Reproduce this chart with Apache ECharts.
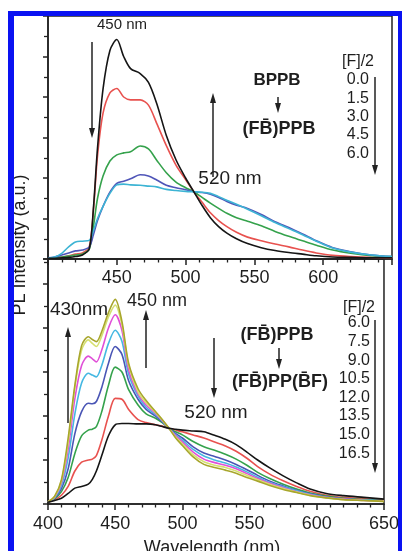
<!DOCTYPE html>
<html><head><meta charset="utf-8">
<script src="https://cdn.jsdelivr.net/npm/echarts@6/dist/echarts.min.js"></script>
<style>html,body{margin:0;padding:0;background:#fff}#c{width:402px;height:551px}</style>
</head><body><div id="c"></div>
<script>
// ---------- data ----------
const xTicks = [400, 450, 500, 550, 600, 650];
const wlTop = [400,405,410,415,420,425,430,433,436,440,445,450,455,460,467,473,479,486,493,500,506,512,518,524,530,537,545,555,565,575,585,595,607,620,635,650];
const top00 = [0.02,0.02,0.03,0.04,0.06,0.10,0.25,1.25,2.75,4.20,5.15,5.42,5.00,4.70,4.58,4.36,3.84,3.05,2.45,2.00,1.66,1.32,1.02,0.80,0.64,0.50,0.38,0.28,0.21,0.16,0.12,0.08,0.05,0.04,0.03,0.03];
const top15 = [0.02,0.03,0.05,0.08,0.12,0.15,0.30,1.20,2.55,3.60,4.10,4.21,4.00,3.93,3.93,3.80,3.35,2.80,2.32,1.96,1.66,1.40,1.14,0.95,0.80,0.66,0.54,0.45,0.37,0.30,0.22,0.15,0.09,0.06,0.04,0.03];
const top30 = [0.02,0.03,0.05,0.07,0.10,0.12,0.25,0.80,1.50,2.05,2.42,2.57,2.62,2.65,2.79,2.72,2.44,2.13,1.90,1.76,1.66,1.52,1.38,1.25,1.13,1.02,0.93,0.82,0.68,0.56,0.45,0.34,0.22,0.14,0.08,0.06];
const top45 = [0.03,0.05,0.10,0.15,0.20,0.22,0.30,0.60,0.95,1.30,1.65,1.87,1.92,1.98,2.08,2.05,1.95,1.82,1.76,1.71,1.66,1.64,1.60,1.52,1.42,1.33,1.25,1.10,0.92,0.78,0.62,0.45,0.28,0.18,0.10,0.06];
const top60 = [0.02,0.05,0.14,0.30,0.42,0.44,0.46,0.70,1.00,1.30,1.62,1.83,1.85,1.83,1.82,1.80,1.78,1.72,1.69,1.67,1.66,1.65,1.62,1.54,1.45,1.35,1.23,1.07,0.90,0.75,0.60,0.44,0.27,0.17,0.10,0.06];

const wlBot = [400,405,410,415,420,425,430,433,436,440,445,450,455,460,467,473,480,485,490,495,500,508,516,524,532,540,548,556,565,575,585,595,607,620,635,650];
const bot060 = [0.04,0.08,0.13,0.24,0.36,0.40,0.45,0.56,0.75,1.10,1.55,1.80,1.83,1.83,1.82,1.82,1.80,1.76,1.72,1.70,1.68,1.66,1.64,1.56,1.47,1.35,1.18,1.00,0.82,0.64,0.48,0.34,0.24,0.19,0.15,0.11];
const bot075 = [0.04,0.10,0.20,0.40,0.75,0.95,1.00,1.02,1.10,1.45,2.00,2.40,2.38,2.15,1.92,1.85,1.80,1.77,1.72,1.68,1.64,1.57,1.50,1.41,1.32,1.20,1.04,0.85,0.68,0.53,0.40,0.29,0.20,0.15,0.12,0.09];
const bot090 = [0.04,0.12,0.28,0.60,1.15,1.55,1.68,1.70,1.76,2.10,2.70,3.11,3.00,2.60,2.25,2.05,1.95,1.85,1.72,1.64,1.57,1.42,1.30,1.22,1.13,1.02,0.88,0.72,0.58,0.45,0.34,0.25,0.18,0.13,0.10,0.08];
const bot105 = [0.04,0.14,0.35,0.80,1.60,2.10,2.29,2.28,2.33,2.65,3.20,3.58,3.40,2.80,2.38,2.15,2.00,1.87,1.72,1.60,1.50,1.30,1.16,1.08,1.00,0.90,0.78,0.65,0.52,0.41,0.31,0.23,0.16,0.12,0.09,0.07];
const bot120 = [0.05,0.15,0.42,1.05,2.05,2.75,2.97,2.93,2.89,3.15,3.65,3.95,3.70,2.95,2.45,2.20,2.03,1.89,1.72,1.57,1.45,1.24,1.09,1.00,0.93,0.84,0.73,0.61,0.49,0.39,0.30,0.22,0.15,0.11,0.09,0.07];
const bot135 = [0.05,0.16,0.48,1.25,2.40,3.15,3.36,3.30,3.23,3.50,4.00,4.30,3.95,3.05,2.50,2.25,2.06,1.90,1.72,1.55,1.41,1.18,1.02,0.94,0.88,0.80,0.69,0.58,0.47,0.37,0.28,0.21,0.15,0.11,0.08,0.07];
const bot150 = [0.05,0.17,0.52,1.40,2.65,3.50,3.73,3.65,3.58,3.82,4.25,4.52,4.08,3.15,2.55,2.30,2.08,1.91,1.72,1.52,1.37,1.12,0.96,0.88,0.83,0.75,0.65,0.55,0.45,0.35,0.27,0.20,0.14,0.10,0.08,0.06];
const bot165 = [0.05,0.18,0.55,1.50,2.70,3.60,3.80,3.74,3.69,3.92,4.35,4.65,4.15,3.20,2.62,2.35,2.10,1.92,1.72,1.50,1.33,1.07,0.90,0.83,0.77,0.70,0.60,0.52,0.42,0.33,0.26,0.19,0.14,0.10,0.08,0.06];

const topConc = ['0.0','1.5','3.0','4.5','6.0'];
const botConc = ['6.0','7.5','9.0','10.5','12.0','13.5','15.0','16.5'];

// ---------- chart ----------
const FONT = '"Liberation Sans", Arial, sans-serif';
const INK = '#1e1e1e';
const topSeries = [top00, top15, top30, top45, top60];
const topColors = ['#151515', '#e8524f', '#35a24c', '#4f55b8', '#3db4d4'];
const botSeries = [bot060, bot075, bot090, bot105, bot120, bot135, bot150, bot165];
const botColors = ['#151515', '#e8524f', '#35a24c', '#4a55b5', '#45b8e2', '#e050d8', '#d6e070', '#a8a62c'];

function pairs(xs, ys) { return xs.map((x, i) => [x, ys[i]]); }

const series = [];
topSeries.forEach((d, i) => series.push({
  type: 'line', xAxisIndex: 0, yAxisIndex: 0, data: pairs(wlTop, d), showSymbol: false, symbol: 'none',
  smooth: 0.3, lineStyle: { color: topColors[i], width: 1.6 }, z: 3 + (i === 0 ? 5 : 0)
}));
botSeries.forEach((d, i) => series.push({
  type: 'line', xAxisIndex: 1, yAxisIndex: 1, data: pairs(wlBot, d), showSymbol: false, symbol: 'none',
  smooth: 0.3, lineStyle: { color: botColors[i], width: 1.6 }, z: 3 + (i === 0 ? 5 : 0)
}));

function xAxisCfg(grid, showEnds, margin) {
  return {
    type: 'value', gridIndex: grid, min: 400, max: 650, interval: 50,
    axisLine: { show: true, lineStyle: { color: '#222', width: 1.6 } },
    axisTick: { show: true, inside: false, length: 6, lineStyle: { color: '#222', width: 1.5 } },
    minorTick: { show: true, splitNumber: 5, length: 3.5, lineStyle: { color: '#222', width: 1.3 } },
    splitLine: { show: false },
    axisLabel: {
      show: true, margin: margin, fontSize: 18, fontFamily: FONT, color: INK,
      formatter: v => (!showEnds && (v === xTicks[0] || v === xTicks[xTicks.length - 1])) ? '' : String(v)
    }
  };
}
function yAxisCfg(grid, max) {
  return {
    type: 'value', gridIndex: grid, min: 0, max: max, interval: 1,
    axisLine: { show: true, lineStyle: { color: '#222', width: 1.6 } },
    axisTick: { show: true, inside: false, length: 5, lineStyle: { color: '#222', width: 1.5 } },
    minorTick: { show: true, splitNumber: 2, length: 4, lineStyle: { color: '#222', width: 1.3 } },
    splitLine: { show: false },
    axisLabel: { show: false }
  };
}

function txt(x, y, s, size, opts) {
  opts = opts || {};
  return {
    type: 'text', x: x, y: y, rotation: opts.rotation || 0, z: 20,
    style: {
      text: s, fontSize: size, fontFamily: FONT, fontWeight: opts.bold ? 'bold' : 'normal', fill: INK,
      textAlign: opts.align || 'center', align: opts.align || 'center',
      textVerticalAlign: 'middle', verticalAlign: 'middle'
    }
  };
}
function arrow(x, y1, y2) {
  const dir = y2 > y1 ? 1 : -1;
  return {
    type: 'group', z: 20, children: [
      { type: 'line', shape: { x1: x, y1: y1, x2: x, y2: y2 - dir * 6 }, style: { stroke: '#222', lineWidth: 1.5 } },
      { type: 'polygon', shape: { points: [[x - 3, y2 - dir * 10], [x + 3, y2 - dir * 10], [x, y2]] }, style: { fill: '#222' } }
    ]
  };
}

const graphics = [
  { type: 'rect', shape: { x: 8, y: 11, width: 394, height: 5 }, style: { fill: '#0a12f2' }, z: 30 },
  { type: 'rect', shape: { x: 8, y: 11, width: 6, height: 540 }, style: { fill: '#0a12f2' }, z: 30 },
  { type: 'rect', shape: { x: 398, y: 11, width: 4, height: 540 }, style: { fill: '#0a12f2' }, z: 1 },
  txt(20, 245, 'PL Intensity (a.u.)', 18, { rotation: Math.PI / 2 }),
  txt(212, 548, 'Wavelength (nm)', 18),
  // upper annotations
  txt(122, 25, '450 nm', 15),
  arrow(92, 42, 138),
  arrow(213, 177, 93),
  txt(230, 179, '520 nm', 19),
  txt(277, 80, 'BPPB', 17, { bold: true }),
  arrow(278, 97, 113),
  txt(279, 129, '(FB\u0304)PPB', 18, { bold: true }),
  txt(358, 62, '[F]/2', 16),
  arrow(375, 77, 175),
  // lower annotations
  txt(79, 310, '430nm', 19),
  arrow(68, 423, 327),
  txt(157, 301, '450 nm', 18),
  arrow(146, 368, 310),
  arrow(214, 338, 398),
  txt(216, 413, '520 nm', 19),
  txt(277, 335, '(FB\u0304)PPB', 18, { bold: true }),
  arrow(279, 348, 369),
  txt(280, 382, '(FB\u0304)PP(B\u0304F)', 18, { bold: true }),
  txt(359, 308, '[F]/2', 16),
  arrow(375, 320, 473)
];
topConc.forEach((s, i) => graphics.push(txt(369, 80 + i * 18.3, s, 16, { align: 'right' })));
botConc.forEach((s, i) => graphics.push(txt(370, 323 + i * 18.6, s, 16, { align: 'right' })));

const chart = echarts.init(document.getElementById('c'), null, { renderer: 'canvas' });
chart.setOption({
  animation: false,
  backgroundColor: '#ffffff',
  grid: [
    { left: 48, top: 16, width: 344, height: 243, show: true, borderColor: '#222', borderWidth: 1.5, backgroundColor: 'transparent' },
    { left: 48, top: 259, width: 344, height: 245, show: true, borderColor: '#222', borderWidth: 1.5, backgroundColor: 'transparent' }
  ],
  xAxis: [xAxisCfg(0, false, 10), xAxisCfg(1, true, 11)],
  yAxis: [yAxisCfg(0, 6), yAxisCfg(1, 245 / 44)],
  series: series,
  graphic: graphics
});
</script></body></html>
